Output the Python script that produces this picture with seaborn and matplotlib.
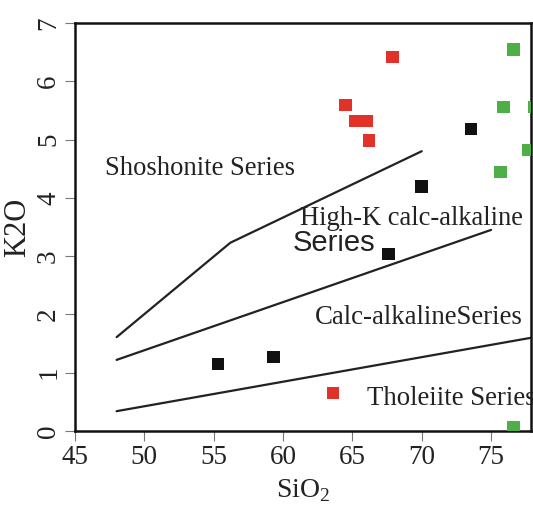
import numpy as np
import pandas as pd
import seaborn as sns
import matplotlib
matplotlib.use("Agg")
import matplotlib.pyplot as plt

# Data points (SiO2, K2O) by group
red_sio2 = [67.9, 64.5, 65.2, 66.0, 66.2, 63.6]
red_k2o = [6.42, 5.59, 5.32, 5.32, 4.98, 0.65]
black_sio2 = [73.55, 70.0, 67.6, 55.3, 59.3]
black_k2o = [5.18, 4.19, 3.04, 1.15, 1.27]
green_sio2 = [76.6, 75.9, 78.1, 77.7, 75.7, 76.6]
green_k2o = [6.55, 5.56, 5.56, 4.82, 4.44, 0.07]

# Boundary lines
shosh_x = [48.0, 56.2, 70.0]
shosh_y = [1.61, 3.23, 4.80]
highk_x = [48.0, 75.0]
highk_y = [1.22, 3.45]
calc_x = [48.0, 77.9]
calc_y = [0.34, 1.60]

x_ticks = [45, 50, 55, 60, 65, 70, 75]
y_ticks = [0, 1, 2, 3, 4, 5, 6, 7]

sns.set_theme(style="white")
plt.rcParams['font.family'] = ['Liberation Serif', 'DejaVu Serif']
plt.rcParams['mathtext.fontset'] = 'custom'
plt.rcParams['mathtext.rm'] = 'Liberation Serif'

fig = plt.figure(figsize=(5.33, 5.08), dpi=100)
ax = fig.add_axes([75/533, 1-431/508, (531-75)/533, (431-23)/508])

df = pd.DataFrame({
    "SiO2": red_sio2 + black_sio2 + green_sio2,
    "K2O": red_k2o + black_k2o + green_k2o,
    "grp": ["red"] * len(red_sio2) + ["black"] * len(black_sio2) + ["green"] * len(green_sio2),
})
palette = {"red": "#e23129", "black": "#111111", "green": "#4daf46"}
sns.scatterplot(data=df, x="SiO2", y="K2O", hue="grp", palette=palette, marker="s",
                s=82, linewidth=0, legend=False, ax=ax, zorder=3)

for xs, ys in [(shosh_x, shosh_y), (highk_x, highk_y), (calc_x, calc_y)]:
    sns.lineplot(x=xs, y=ys, sort=False, color="#222222", linewidth=1.6, ax=ax, estimator=None)

ax.set_xlim(45, 77.88)
ax.set_ylim(0, 7)
ax.set_xticks(x_ticks)
ax.set_yticks(y_ticks)
ax.tick_params(axis="both", which="both", direction="out", length=7, width=0.8, colors="#777777",
               labelsize=19.5, labelcolor="#222222", left=True, bottom=True, pad=3)
for lab in ax.get_yticklabels():
    lab.set_rotation(90)
    lab.set_va("center")
for sp in ax.spines.values():
    sp.set_visible(True)
    sp.set_color("#111111")
    sp.set_linewidth(1.8)

ax.set_xlabel("SiO$_2$", fontsize=20, color="#222222", labelpad=5)
ax.set_ylabel("K2O", fontsize=22, color="#222222", labelpad=3)

tc = "#222222"
ax.text(47.16, 4.5, "Shoshonite Series", fontsize=19.2, color=tc, va="center", ha="left")
ax.text(61.2, 3.65, "High-K calc-alkaline", fontsize=19.1, color=tc, va="center", ha="left")
ax.text(60.7, 3.22, "Series", fontsize=21, color=tc, va="center", ha="left",
        family=["Liberation Sans", "DejaVu Sans"])
ax.text(62.3, 1.94, "Calc-alkalineSeries", fontsize=19.3, color=tc, va="center", ha="left")
ax.text(66.05, 0.55, "Tholeiite Series", fontsize=19.3, color=tc, va="center", ha="left", clip_on=False)

fig.savefig("out.png", dpi=100)
